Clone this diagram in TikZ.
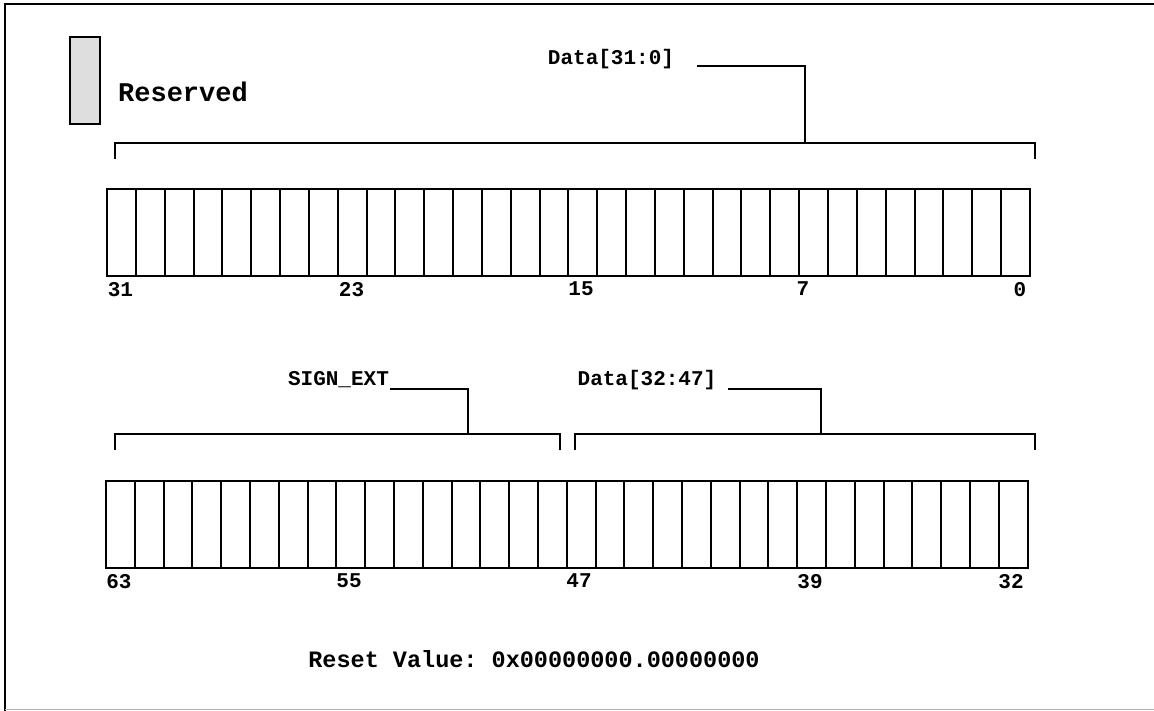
\documentclass[tikz,border=0pt]{standalone}
\usepackage{fontspec}
\setmonofont{Liberation Mono}
\begin{document}
\begin{tikzpicture}[x=1pt,y=-1pt,line width=2pt,
  lbl/.style={font=\ttfamily\bfseries\fontsize{21}{24}\selectfont,inner sep=0pt},
  biglbl/.style={font=\ttfamily\bfseries\fontsize{27}{30}\selectfont,inner sep=0pt},
  resetlbl/.style={font=\ttfamily\bfseries\fontsize{23.5}{27}\selectfont,inner sep=0pt},
  cell/.style={draw,line width=2pt,minimum width=28.84pt,minimum height=87pt,inner sep=0pt,outer sep=0pt},
  resbox/.style={draw,line width=2pt,fill=black!13,minimum width=30pt,minimum height=87pt,inner sep=0pt,outer sep=0pt},
  brk/.style={line width=2pt}]
\useasboundingbox (0,0) rectangle (1154,711);
% frame
\draw[line width=2.5pt] (5,711) -- (5,4) -- (1154,4);
\draw[black!30,line width=1.5pt] (5,709.5) -- (1154,709.5);
% legend
\node[resbox] (res) at (85,80.5) {};
\node[biglbl] (restxt) at (183,92) {Reserved};
% top register
\foreach \i in {0,...,31} {
  \node[cell] (t\i) at ({107+\i*28.84+14.42},232.5) {};
}
\node[lbl,anchor=north] (b31) at (120.5,281) {31};
\node[lbl,anchor=north] (b23) at (351.5,281) {23};
\node[lbl,anchor=north] (b15) at (581,281) {15};
\node[lbl,anchor=north] (b7)  at (803,281) {7};
\node[lbl,anchor=north] (b0)  at (1020,281) {0};
% top bracket
\coordinate (tbL) at (115,159);
\coordinate (tbR) at (1035,159);
\coordinate (tbM) at (805,143);
\draw[brk] (tbL) -- (115,143) -- (1035,143) -- (tbR);
\node[lbl] (d31) at (611,59) {Data[31:0]};
\coordinate (d31s) at (697,66);
\draw[brk] (d31s) -| (tbM);
% bottom register
\foreach \i in {0,...,31} {
  \node[cell,minimum width=28.8pt] (u\i) at ({106+\i*28.8+14.4},524) {};
}
\node[lbl,anchor=north] (b63) at (119,573) {63};
\node[lbl,anchor=north] (b55) at (349,573) {55};
\node[lbl,anchor=north] (b47) at (579,573) {47};
\node[lbl,anchor=north] (b39) at (810,573) {39};
\node[lbl,anchor=north] (b32) at (1011,573) {32};
% bottom brackets
\coordinate (sbL) at (115,450);
\coordinate (sbR) at (560,450);
\coordinate (sbM) at (468,434);
\draw[brk] (sbL) -- (115,434) -- (560,434) -- (sbR);
\coordinate (dbL) at (575,450);
\coordinate (dbR) at (1035,450);
\coordinate (dbM) at (821,434);
\draw[brk] (dbL) -- (575,434) -- (1035,434) -- (dbR);
\node[lbl] (sext) at (338.5,380) {SIGN\_EXT};
\coordinate (sexts) at (390,389);
\draw[brk] (sexts) -| (sbM);
\node[lbl] (d32) at (647,380) {Data[32:47]};
\coordinate (d32s) at (728,389);
\draw[brk] (d32s) -| (dbM);
% reset value
\node[resetlbl] (reset) at (534,659) {Reset Value: 0x00000000.00000000};
\end{tikzpicture}
\end{document}
